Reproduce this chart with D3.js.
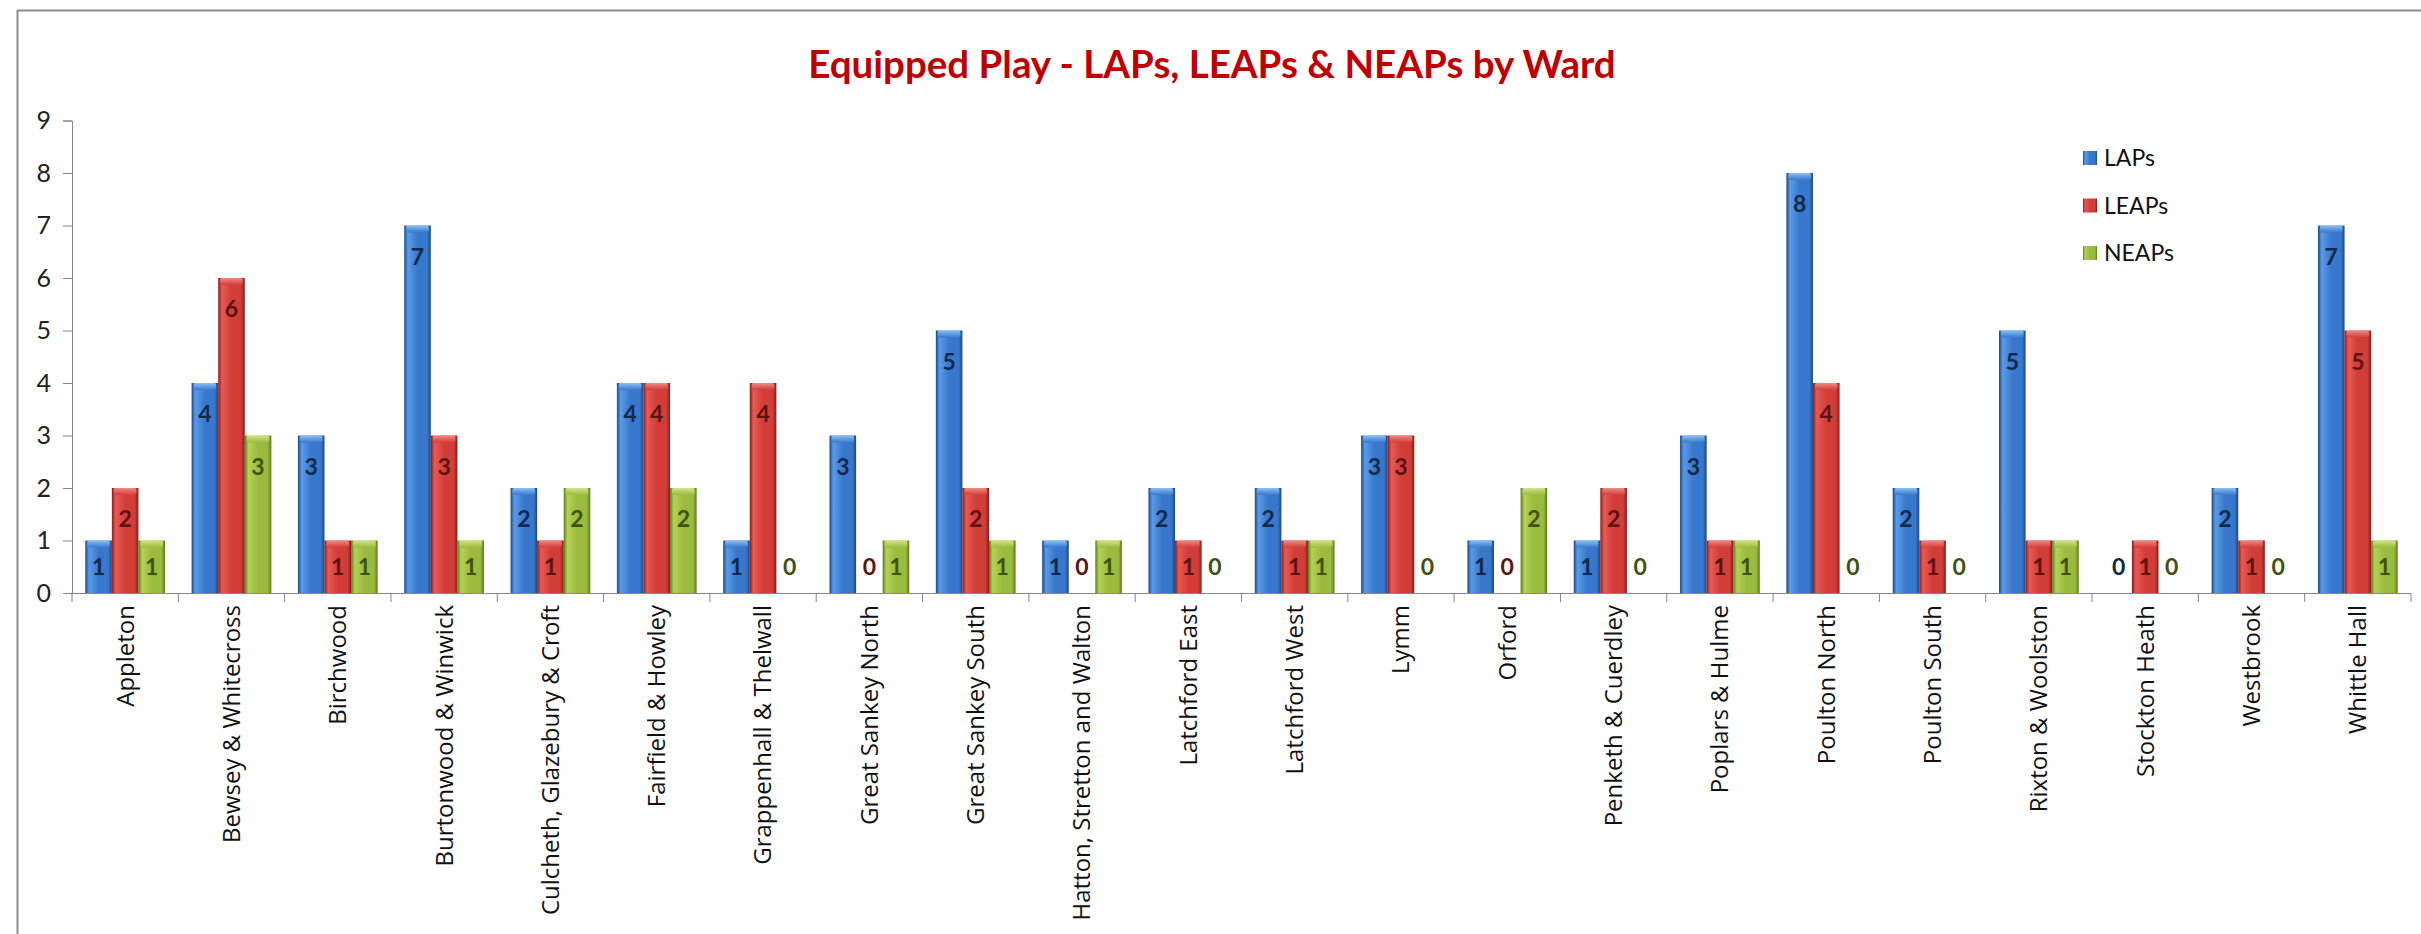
<!DOCTYPE html>
<html>
<head>
<meta charset="utf-8">
<script src="https://d3js.org/d3.v7.min.js"></script>
<style>
  body { margin: 0; background: #fff; }
</style>
</head>
<body>
<div id="container"></div>

<script type="text/javascript">

var width = 2421, height = 934;

// ward names along the x axis
var wards = [
  "Appleton", "Bewsey & Whitecross", "Birchwood", "Burtonwood & Winwick",
  "Culcheth, Glazebury & Croft", "Fairfield & Howley", "Grappenhall & Thelwall",
  "Great Sankey North", "Great Sankey South", "Hatton, Stretton and Walton",
  "Latchford East", "Latchford West", "Lymm", "Orford", "Penketh & Cuerdley",
  "Poplars & Hulme", "Poulton North", "Poulton South", "Rixton & Woolston",
  "Stockton Heath", "Westbrook", "Whittle Hall"
];

var seriesNames = ["LAPs", "LEAPs", "NEAPs"];

var laps  = [1, 4, 3, 7, 2, 4, 1, 3, 5, 1, 2, 2, 3, 1, 1, 3, 8, 2, 5, 0, 2, 7];
var leaps = [2, 6, 1, 3, 1, 4, 4, 0, 2, 0, 1, 1, 3, 0, 2, 1, 4, 1, 1, 1, 1, 5];
var neaps = [1, 3, 1, 1, 2, 2, 0, 1, 1, 1, 0, 1, 0, 2, 0, 1, 0, 0, 1, 0, 0, 1];

var yTicks = [0, 1, 2, 3, 4, 5, 6, 7, 8, 9];

var title = "Equipped Play - LAPs, LEAPs & NEAPs by Ward";

// colours per series: edge dark, highlight, body, label colour
var palette = {
  LAPs:  { dark: "#1c4784", light: "#5a9be8", body: "#3878cc", cap: "#8cc0f5", text: "#13294b" },
  LEAPs: { dark: "#8a1c19", light: "#e65a55", body: "#d23d38", cap: "#f08a86", text: "#5c1311" },
  NEAPs: { dark: "#5f7a1b", light: "#b4d255", body: "#9bbb3e", cap: "#cfe58a", text: "#3f5212" }
};

var rows = wards.map((w, i) => ({
  ward: w,
  values: [
    { key: "LAPs", v: laps[i] },
    { key: "LEAPs", v: leaps[i] },
    { key: "NEAPs", v: neaps[i] }
  ]
}));

var x0 = 72, x1 = 2411, yBase = 593, yTop = 120.5;

var svg = d3.select('#container')
  .append('svg')
  .attr('width', width)
  .attr('height', height)
  .style('background-color', '#fff');

// gradients for the bevelled bars
var defs = svg.append('defs');
seriesNames.forEach(k => {
  var c = palette[k];
  var g = defs.append('linearGradient').attr('id', 'g-' + k)
    .attr('x1', '0%').attr('x2', '100%').attr('y1', '0%').attr('y2', '0%');
  g.append('stop').attr('offset', '0%').attr('stop-color', c.dark);
  g.append('stop').attr('offset', '14%').attr('stop-color', c.light);
  g.append('stop').attr('offset', '50%').attr('stop-color', c.body);
  g.append('stop').attr('offset', '86%').attr('stop-color', c.body);
  g.append('stop').attr('offset', '100%').attr('stop-color', c.dark);
  var t = defs.append('linearGradient').attr('id', 'c-' + k)
    .attr('x1', '0%').attr('x2', '0%').attr('y1', '0%').attr('y2', '100%');
  t.append('stop').attr('offset', '0%').attr('stop-color', c.cap);
  t.append('stop').attr('offset', '100%').attr('stop-color', c.body);
});

// chart frame (only top and left edges show in the picture)
svg.append('line').attr('x1', 17).attr('x2', width).attr('y1', 10.5).attr('y2', 10.5)
  .attr('stroke', '#8c8c8c').attr('stroke-width', 2);
svg.append('line').attr('x1', 17.5).attr('x2', 17.5).attr('y1', 10).attr('y2', height)
  .attr('stroke', '#8c8c8c').attr('stroke-width', 2);

// title
svg.append('text')
  .attr('x', 1212).attr('y', 78)
  .attr('text-anchor', 'middle')
  .style('font-family', 'Lato, sans-serif')
  .style('font-weight', 'bold')
  .style('font-size', '38.5px')
  .style('fill', '#c00000')
  .text(title);

var x = d3.scaleBand()
  .domain(wards)
  .range([x0, x1])
  .paddingInner(0.25)
  .paddingOuter(0.125);

var xs = d3.scaleBand()
  .domain(seriesNames)
  .range([0, x.bandwidth()]);

var y = d3.scaleLinear()
  .domain([0, 9])
  .range([yBase, yTop]);

// y axis
var yAxis = svg.append('g')
  .attr('transform', 'translate(' + x0 + ',0)')
  .call(d3.axisLeft(y).tickValues(yTicks).tickSize(9).tickPadding(12));
yAxis.select('.domain').attr('stroke', '#868686');
yAxis.selectAll('.tick line').attr('stroke', '#868686');
yAxis.selectAll('text')
  .style('font-family', 'Lato, sans-serif')
  .style('font-size', '25px')
  .style('fill', '#222');

// x axis baseline with category separators
svg.append('line')
  .attr('x1', x0).attr('x2', x1).attr('y1', yBase + 0.5).attr('y2', yBase + 0.5)
  .attr('stroke', '#868686').attr('stroke-width', 1.2);
var step = x.step();
svg.selectAll('.sep')
  .data(d3.range(wards.length + 1))
  .enter().append('line')
  .attr('x1', i => x0 + i * step).attr('x2', i => x0 + i * step)
  .attr('y1', yBase).attr('y2', yBase + 9)
  .attr('stroke', '#868686');

// category labels, rotated
svg.selectAll('.cat')
  .data(wards)
  .enter().append('text')
  .attr('transform', d => 'translate(' + (x(d) + x.bandwidth() / 2) + ',' + (yBase + 12) + ') rotate(-90)')
  .attr('text-anchor', 'end')
  .attr('dy', '0.35em')
  .style('font-family', '"Open Sans", sans-serif')
  .style('font-size', '24px')
  .style('fill', '#111')
  .text(d => d);

// bars
var groups = svg.selectAll('.grp')
  .data(rows)
  .enter().append('g')
  .attr('transform', d => 'translate(' + x(d.ward) + ',0)');

var bars = groups.selectAll('.bar')
  .data(d => d.values)
  .enter();

bars.filter(d => d.v > 0).append('rect')
  .attr('x', d => xs(d.key))
  .attr('width', xs.bandwidth())
  .attr('y', d => y(d.v))
  .attr('height', d => yBase - y(d.v))
  .attr('fill', d => 'url(#g-' + d.key + ')');

bars.filter(d => d.v > 0).append('rect')
  .attr('x', d => xs(d.key) + 2)
  .attr('width', xs.bandwidth() - 4)
  .attr('y', d => y(d.v))
  .attr('height', 7)
  .attr('rx', 2)
  .attr('fill', d => 'url(#c-' + d.key + ')');

// value labels inside the bar end
bars.append('text')
  .attr('x', d => xs(d.key) + xs.bandwidth() / 2)
  .attr('y', d => Math.min(y(d.v) + 31, yBase - 26))
  .attr('dy', '0.35em')
  .attr('text-anchor', 'middle')
  .style('font-family', 'Lato, sans-serif')
  .style('font-weight', 'bold')
  .style('font-size', '23px')
  .style('fill', d => palette[d.key].text)
  .text(d => d.v);

// legend
var legend = svg.append('g').attr('transform', 'translate(2083,158)');
legend.selectAll('rect')
  .data(seriesNames)
  .enter().append('rect')
  .attr('x', 0).attr('y', (d, i) => i * 47.5 - 7)
  .attr('width', 14).attr('height', 14)
  .attr('fill', d => 'url(#g-' + d + ')');
legend.selectAll('text')
  .data(seriesNames)
  .enter().append('text')
  .attr('x', 21).attr('y', (d, i) => i * 47.5)
  .attr('dy', '0.35em')
  .style('font-family', 'Lato, sans-serif')
  .style('font-size', '23px')
  .style('fill', '#111')
  .text(d => d);

</script>
</body>
</html>
